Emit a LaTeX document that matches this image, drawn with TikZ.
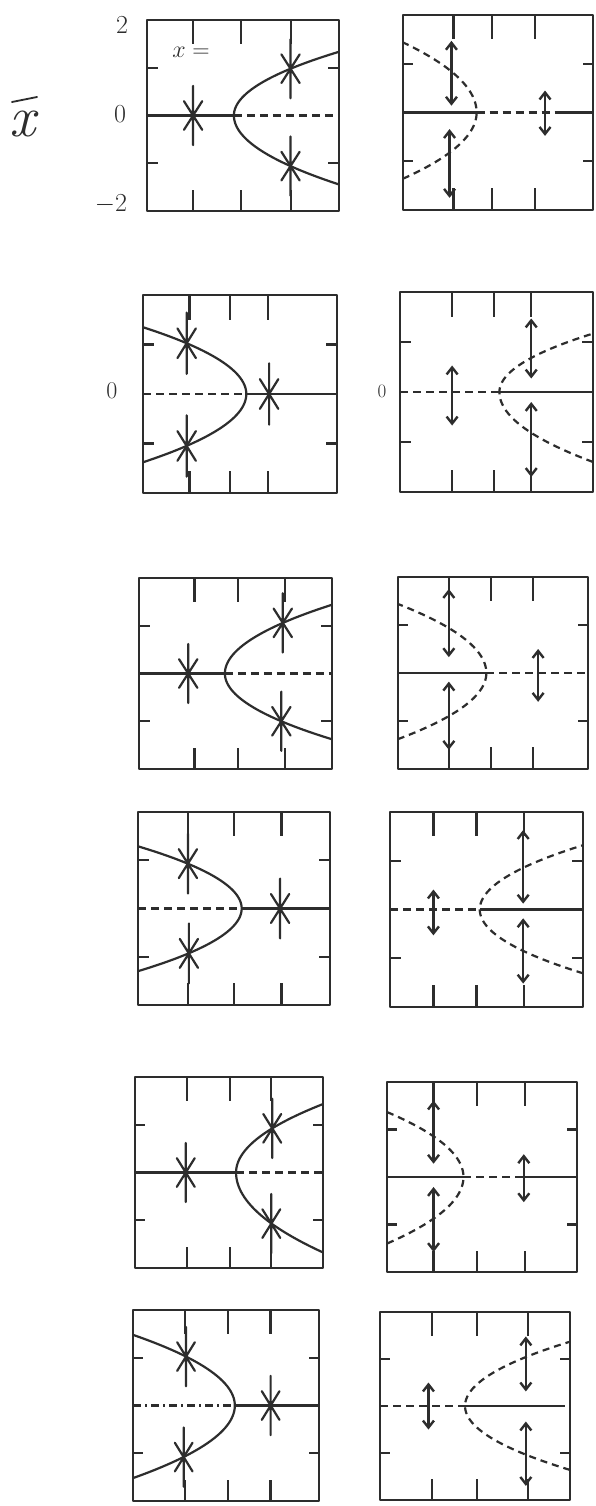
\documentclass[tikz,border=0pt]{standalone}
\usepackage{fix-cm}
\usetikzlibrary{arrows.meta}
\definecolor{ink}{RGB}{45,45,45}
\tikzset{
 frm/.style={draw=ink, line width=2.6pt, line join=round},
 tk/.style={draw=ink, line width=2.3pt},
 solidc/.style={draw=ink, line width=2.2pt},
 dashc/.style={draw=ink, line width=2.2pt, dash pattern=on 7pt off 5pt},
 axl/.style={draw=ink, line width=2.4pt},
 axd/.style={draw=ink, line width=2.4pt, dash pattern=on 8pt off 5pt},
 axdd/.style={draw=ink, line width=2.4pt, dash pattern=on 8pt off 4pt on 2pt off 4pt},
 astk/.style={draw=ink, line width=2.2pt, line cap=round},
 dar/.style={draw=ink, line width=2.4pt, >={Straight Barb[length=7pt,width=11pt]}, <->},
 lbl/.style={text=ink, inner sep=0pt},
}
\newcommand{\SkGrid}[3]{%
 \draw[frm] (0,-2) rectangle (4,2);
 \foreach \tx in {#1,#2,#3}{\draw[tk] (\tx,2)--(\tx,1.5); \draw[tk] (\tx,-2)--(\tx,-1.55);}
 \foreach \ty in {1,-1}{\draw[tk] (0,\ty)--(0.22,\ty); \draw[tk] (4,\ty)--(3.78,\ty);}
}
\newcommand{\SkStar}[2]{\draw[astk] (#1,#2-0.62)--(#1,#2+0.62) (#1-0.19,#2-0.3)--(#1+0.19,#2+0.3) (#1-0.19,#2+0.3)--(#1+0.19,#2-0.3);}
\newcommand{\SkPar}[7]{\draw[#1] plot[domain=#5:0,samples=30,smooth,variable=\t] ({#2#3#4*(\t)*(\t)},{\t}) -- plot[domain=0:#7,samples=30,smooth,variable=\t] ({#2#3#6*(\t)*(\t)},{\t});}
\newcommand{\SkArr}[3]{\draw[dar] (#1,#2)--(#1,#3);}
\begin{document}
\begin{tikzpicture}[x=1pt,y=1pt]
\fill[white] (0,0) rectangle (595,-1506);
\useasboundingbox (0,0) rectangle (595,-1506);

% labels
\node[lbl, font=\fontsize{58}{58}\selectfont\itshape] (xbar) at (23,-124) {x};
\draw[ink, line width=1.8pt, line cap=round] (12,-102) -- (37,-97);
\node[lbl, font=\fontsize{26}{26}\selectfont] (ytwo) at (122,-25) {2};
\node[lbl, font=\fontsize{26}{26}\selectfont] (yzero) at (120,-114) {0};
\node[lbl, font=\fontsize{26}{26}\selectfont] (yminus) at (111,-204) {$-2$};
\node[lbl, font=\fontsize{24}{24}\selectfont] (xeq) at (191,-52) {$x=$};
\node[lbl, font=\fontsize{24}{24}\selectfont] (zeroL) at (112,-391) {0};
\node[lbl, font=\fontsize{19}{19}\selectfont] (zeroR) at (382,-391) {0};

% Row 1 left
\begin{scope}[shift={(147,-115.5)}, xscale=48, yscale=47.75]
 \SkGrid{0.96}{1.96}{3.0}
 \draw[axl] (0,0)--(1.81,0); \draw[axd] (1.81,0)--(4,0);
 \SkPar{solidc}{1.81}{+}{1.05}{-1.44}{1.23}{1.33}
 \SkStar{0.96}{0} \SkStar{2.99}{0.98} \SkStar{2.99}{-1.06}
\end{scope}
% Row 1 right
\begin{scope}[shift={(403,-112.5)}, xscale=47.5, yscale=48.75]
 \SkGrid{1.06}{1.87}{2.78}
 \draw[axl] (0,0)--(1.55,0); \draw[axd] (1.55,0)--(3.25,0); \draw[axl] (3.25,0)--(4,0);
 \SkPar{dashc}{1.55}{-}{0.84}{-1.36}{0.75}{1.44}
 \SkArr{1.02}{1.47}{0.14} \SkArr{0.98}{-0.34}{-1.75} \SkArr{2.99}{0.45}{-0.48}
\end{scope}

% Row 2 left
\begin{scope}[shift={(143,-394)}, xscale=48.5, yscale=49.5]
 \SkGrid{0.96}{1.79}{2.58}
 \draw[axd] (0,0)--(2.13,0); \draw[axl] (2.13,0)--(4,0);
 \SkPar{solidc}{2.13}{-}{1.12}{-1.38}{1.17}{1.35}
 \SkStar{0.9}{1.025} \SkStar{0.9}{-1.05} \SkStar{2.6}{0}
\end{scope}
% Row 2 right
\begin{scope}[shift={(400,-392)}, xscale=48.25, yscale=50]
 \SkGrid{1.08}{1.95}{2.72}
 \draw[axd] (0,0)--(2.06,0); \draw[axl] (2.06,0)--(4,0);
 \SkPar{dashc}{2.06}{+}{0.99}{-1.4}{1.42}{1.17}
 \SkArr{1.08}{0.53}{-0.67} \SkArr{2.72}{1.47}{0.27} \SkArr{2.72}{-0.2}{-1.7}
\end{scope}

% Row 3 left
\begin{scope}[shift={(139,-673.5)}, xscale=48.25, yscale=47.75]
 \SkGrid{1.15}{2.05}{3.02}
 \draw[axl] (0,0)--(1.78,0); \draw[axd] (1.78,0)--(4,0);
 \SkPar{solidc}{1.78}{+}{1.17}{-1.38}{1.07}{1.44}
 \SkStar{1.02}{0} \SkStar{2.98}{1.06} \SkStar{2.95}{-1.0}
\end{scope}
% Row 3 right
\begin{scope}[shift={(398,-673)}, xscale=47.5, yscale=48]
 \SkGrid{1.07}{1.96}{2.84}
 \draw[axl] (0,0)--(1.86,0); \draw[axd] (1.86,0)--(4,0);
 \SkPar{dashc}{1.86}{-}{0.98}{-1.38}{0.9}{1.44}
 \SkArr{1.07}{1.75}{0.33} \SkArr{1.07}{-0.18}{-1.6} \SkArr{2.95}{0.5}{-0.6}
\end{scope}

% Row 4 left
\begin{scope}[shift={(138,-908.5)}, xscale=48, yscale=48.25]
 \SkGrid{1.04}{2.0}{2.99}
 \draw[axd] (0,0)--(2.16,0); \draw[axl] (2.16,0)--(4,0);
 \SkPar{solidc}{2.16}{-}{1.28}{-1.3}{1.3}{1.29}
 \SkStar{1.04}{0.93} \SkStar{1.06}{-0.93} \SkStar{2.96}{0}
\end{scope}
% Row 4 right
\begin{scope}[shift={(390,-909.5)}, xscale=48.25, yscale=48.75]
 \SkGrid{0.9}{1.79}{2.77}
 \draw[axd] (0,0)--(1.86,0); \draw[axl] (1.86,0)--(4,0);
 \SkPar{dashc}{1.86}{+}{1.25}{-1.31}{1.23}{1.32}
 \SkArr{0.9}{0.41}{-0.53} \SkArr{2.76}{1.63}{0.12} \SkArr{2.76}{-0.18}{-1.52}
\end{scope}

% Row 5 left
\begin{scope}[shift={(135,-1172.5)}, xscale=47, yscale=47.75]
 \SkGrid{1.11}{2.02}{2.9}
 \draw[axl] (0,0)--(2.15,0); \draw[axd] (2.15,0)--(4,0);
 \SkPar{solidc}{2.15}{+}{0.66}{-1.67}{0.9}{1.43}
 \SkStar{1.08}{0} \SkStar{2.92}{0.925} \SkStar{2.9}{-1.07}
\end{scope}
% Row 5 right
\begin{scope}[shift={(387,-1177)}, xscale=47.5, yscale=47.5]
 \SkGrid{0.98}{1.89}{2.91}
 \draw[axl] (0,0)--(1.61,0); \draw[axd] (1.61,0)--(2.88,0); \draw[axl] (2.88,0)--(4,0);
 \SkPar{dashc}{1.61}{-}{0.82}{-1.4}{0.86}{1.37}
 \SkArr{0.98}{1.61}{0.28} \SkArr{0.98}{-0.21}{-1.58} \SkArr{2.88}{0.48}{-0.53}
\end{scope}

% Row 6 left
\begin{scope}[shift={(133,-1405.5)}, xscale=46.5, yscale=47.75]
 \SkGrid{1.12}{2.05}{2.96}
 \draw[axdd] (0,0)--(2.19,0); \draw[axl] (2.19,0)--(4,0);
 \SkPar{solidc}{2.19}{-}{0.948}{-1.52}{1.0}{1.48}
 \SkStar{1.14}{1.025} \SkStar{1.09}{-1.08} \SkStar{2.96}{0}
\end{scope}
% Row 6 right
\begin{scope}[shift={(380,-1406)}, xscale=47.5, yscale=47]
 \SkGrid{1.09}{2.04}{3.12}
 \draw[axd] (0,0)--(1.79,0); \draw[axl] (1.79,0)--(3.9,0);
 \SkPar{dashc}{1.79}{+}{1.195}{-1.36}{1.18}{1.37}
 \SkArr{1.02}{0.5}{-0.5} \SkArr{3.07}{1.48}{0.31} \SkArr{3.07}{-0.33}{-1.7}
\end{scope}
\end{tikzpicture}
\end{document}
